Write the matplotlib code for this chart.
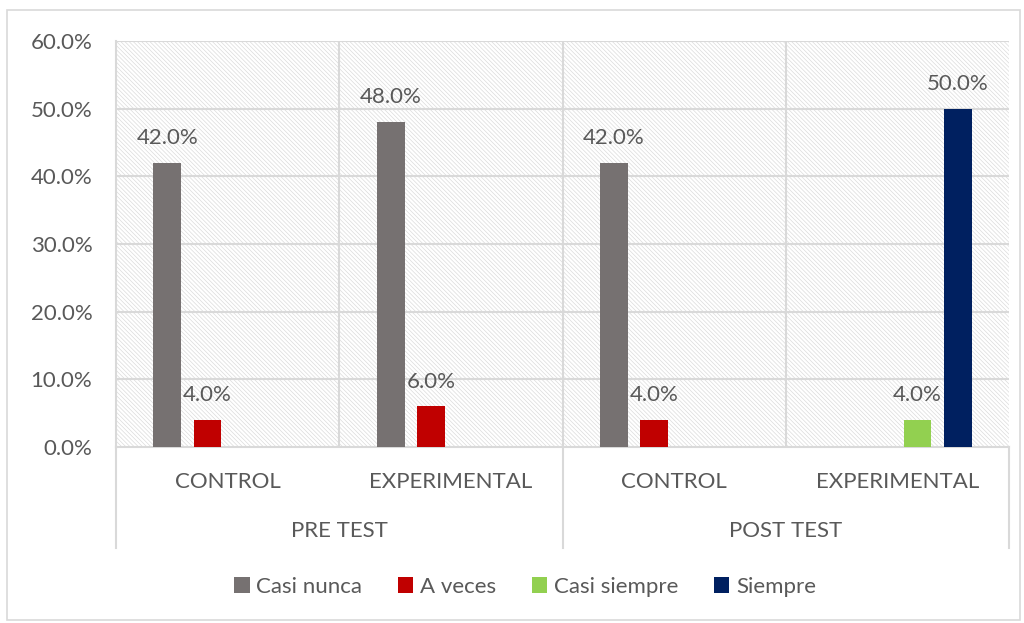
import numpy as np
import matplotlib.pyplot as plt
from matplotlib.patches import Rectangle
from matplotlib.lines import Line2D

plt.rcParams['font.family'] = ['Lato', 'DejaVu Sans']
plt.rcParams['hatch.linewidth'] = 0.5

# data
groups = ['PRE TEST', 'POST TEST']
categories = ['CONTROL', 'EXPERIMENTAL', 'CONTROL', 'EXPERIMENTAL']
series = ['Casi nunca', 'A veces', 'Casi siempre', 'Siempre']
casi_nunca = [42.0, 48.0, 42.0, 0.0]
a_veces = [4.0, 6.0, 4.0, 0.0]
casi_siempre = [0.0, 0.0, 0.0, 4.0]
siempre = [0.0, 0.0, 0.0, 50.0]
colors = ['#767171', '#C00000', '#92D050', '#002060']

txt = '#595959'
grid = '#d9d9d9'
fs = 16

fig = plt.figure(figsize=(10.24, 6.23), dpi=100)
ax = fig.add_axes([116 / 1024, 1 - 447 / 623, 893 / 1024, 406 / 623])

# outer chart frame
fig.patches.append(Rectangle((7 / 1024, 3 / 623), 1013 / 1024, 610 / 623,
                             transform=fig.transFigure, fill=False,
                             edgecolor=grid, linewidth=1.2))

# hatched plot background
ax.add_patch(Rectangle((0, 0), 1, 1, transform=ax.transAxes, facecolor='white',
                       edgecolor='#dcdcdc', hatch='\\' * 8, linewidth=0, zorder=0))

x = np.arange(len(categories))
width = 0.125
step = 0.18
all_vals = [casi_nunca, a_veces, casi_siempre, siempre]
for i, (name, vals) in enumerate(zip(series, all_vals)):
    pos = x + (i - 1.5) * step
    ax.bar(pos, vals, width, color=colors[i], label=name, zorder=3)
    for p, v in zip(pos, vals):
        if v > 0:
            ax.text(p, v + 2.2, f'{v:.1f}%', ha='center', va='bottom',
                    fontsize=fs, color=txt, zorder=4)

ax.set_xlim(-0.5, 3.5)
ax.set_ylim(0, 60)
ax.set_yticks(np.arange(0, 61, 10))
ax.set_yticklabels([f'{t:.1f}%' for t in np.arange(0, 61, 10)])
ax.tick_params(axis='y', length=0, labelsize=fs, labelcolor=txt, pad=17)
ax.set_xticks([])

for y in range(10, 61, 10):
    ax.axhline(y, color=grid, linewidth=1.5, zorder=1)
for xv in [0.5, 1.5, 2.5]:
    ax.axvline(xv, color=grid, linewidth=1.5, zorder=1)

for s in ['top', 'right']:
    ax.spines[s].set_visible(False)
ax.spines['left'].set_color(grid)
ax.spines['left'].set_linewidth(1.5)
ax.spines['bottom'].set_color(grid)
ax.spines['bottom'].set_linewidth(1.5)

# multi-level category labels
for xi, c in zip(x, categories):
    ax.text(xi, -0.086, c, transform=ax.get_xaxis_transform(), ha='center',
            va='center', fontsize=fs, color=txt)
for gi, g in enumerate(groups):
    ax.text(0.5 + 2 * gi, -0.206, g, transform=ax.get_xaxis_transform(),
            ha='center', va='center', fontsize=fs, color=txt)
for xv in [-0.5, 1.5, 3.5]:
    ax.add_line(Line2D([xv, xv], [0, -0.249], transform=ax.get_xaxis_transform(),
                       color=grid, linewidth=1.5, clip_on=False))

leg = fig.legend(loc='center', bbox_to_anchor=(525 / 1024, 1 - 587 / 623), ncol=4,
                 frameon=False, fontsize=fs, handlelength=0.7, handleheight=0.7,
                 handletextpad=0.3, columnspacing=1.6)
for t in leg.get_texts():
    t.set_color(txt)

fig.savefig('out.png', dpi=100)
